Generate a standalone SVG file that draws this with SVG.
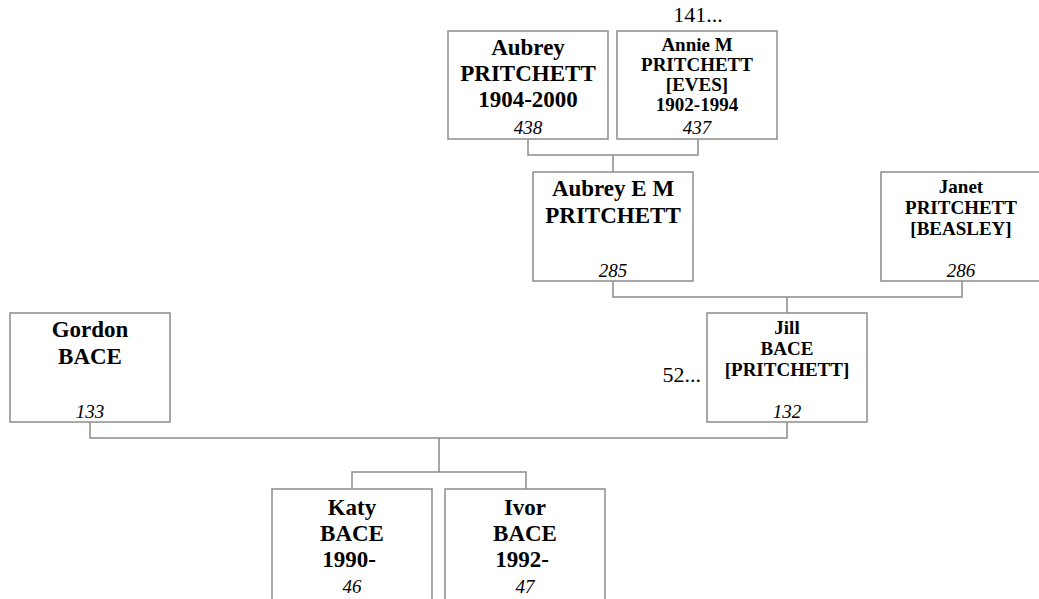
<svg xmlns="http://www.w3.org/2000/svg" width="1039" height="599" viewBox="0 0 1039 599">
<style>
.box{fill:#fff;stroke:#8c8c8c;stroke-width:1.5}
.conn{fill:none;stroke:#8c8c8c;stroke-width:1.5}
.b{font-family:"Liberation Serif",serif;font-weight:bold;text-anchor:middle;fill:#000}
.big{font-size:23px}
.sm{font-size:19px}
.num{font-family:"Liberation Serif",serif;font-style:italic;font-size:19px;text-anchor:middle;fill:#000}
.more{font-family:"Liberation Serif",serif;font-size:22px;fill:#000}
</style>
<rect width="1039" height="599" fill="#fff"/>
<g id="connectors">
<path class="conn" d="M528 139V155H698V139M613 155V172"/>
<path class="conn" d="M613 281V297H962V281M787 297V313"/>
<path class="conn" d="M90 422V438H787V422M439 438V472M352 489V472H526V489"/>
</g>
<g id="n438">
<rect class="box" x="448" y="31" width="160" height="108"/>
<text class="b big" x="528" y="55">Aubrey</text>
<text class="b big" x="528" y="81">PRITCHETT</text>
<text class="b big" x="528" y="107">1904-2000</text>
<text class="num" x="528" y="134">438</text>
</g>
<g id="n437">
<text class="more" x="698" y="22" text-anchor="middle">141...</text>
<rect class="box" x="617" y="31" width="160" height="108"/>
<text class="b sm" x="697" y="51">Annie M</text>
<text class="b sm" x="697" y="71">PRITCHETT</text>
<text class="b sm" x="697" y="91">[EVES]</text>
<text class="b sm" x="697" y="111">1902-1994</text>
<text class="num" x="697" y="134">437</text>
</g>
<g id="n285">
<rect class="box" x="533" y="172" width="160" height="109"/>
<text class="b big" x="613" y="196">Aubrey E M</text>
<text class="b big" x="613" y="223">PRITCHETT</text>
<text class="num" x="613" y="277">285</text>
</g>
<g id="n286">
<rect class="box" x="881" y="172" width="160" height="109"/>
<text class="b sm" x="961" y="193">Janet</text>
<text class="b sm" x="961" y="214">PRITCHETT</text>
<text class="b sm" x="961" y="235">[BEASLEY]</text>
<text class="num" x="961" y="277">286</text>
</g>
<g id="n133">
<rect class="box" x="10" y="313" width="160" height="109"/>
<text class="b big" x="90" y="337">Gordon</text>
<text class="b big" x="90" y="364">BACE</text>
<text class="num" x="90" y="418">133</text>
</g>
<g id="n132">
<text class="more" x="701" y="382" text-anchor="end">52...</text>
<rect class="box" x="707" y="313" width="160" height="109"/>
<text class="b sm" x="787" y="334">Jill</text>
<text class="b sm" x="787" y="355">BACE</text>
<text class="b sm" x="787" y="376">[PRITCHETT]</text>
<text class="num" x="787" y="418">132</text>
</g>
<g id="n46">
<rect class="box" x="272" y="489" width="160" height="115"/>
<text class="b big" x="352" y="515">Katy</text>
<text class="b big" x="352" y="541">BACE</text>
<text class="b big" x="349" y="567">1990-</text>
<text class="num" x="352" y="593">46</text>
</g>
<g id="n47">
<rect class="box" x="445" y="489" width="160" height="115"/>
<text class="b big" x="525" y="515">Ivor</text>
<text class="b big" x="525" y="541">BACE</text>
<text class="b big" x="522" y="567">1992-</text>
<text class="num" x="525" y="593">47</text>
</g>
</svg>
